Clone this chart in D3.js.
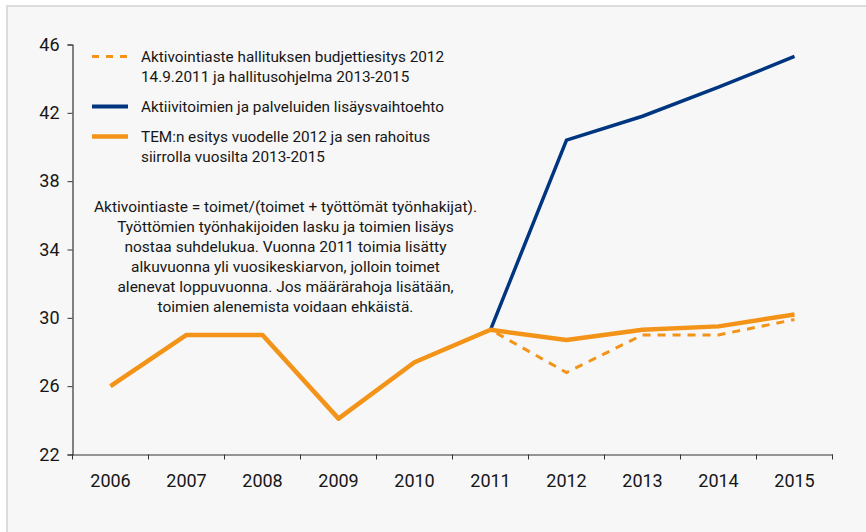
<!DOCTYPE html>
<html>
<head>
<meta charset="utf-8">
<script src="https://cdn.jsdelivr.net/npm/d3@7"></script>
<style>
  body { margin: 0; background: #fff; }
  svg text { font-family: Roboto, "Open Sans", sans-serif; fill: #161616; }
</style>
</head>
<body>
<svg id="chart" width="866" height="532"></svg>
<script>
// data
const years = ['2006', '2007', '2008', '2009', '2010', '2011', '2012', '2013', '2014', '2015']
const budjettiesitys = [26.0, 29.0, 29.0, 24.1, 27.4, 29.3, 26.8, 29.0, 29.0, 29.9]
const lisaysvaihtoehto = [null, null, null, null, null, 29.3, 40.4, 41.8, 43.5, 45.3]
const temEsitys = [26.0, 29.0, 29.0, 24.1, 27.4, 29.3, 28.7, 29.3, 29.5, 30.2]
const yTicks = [22, 26, 30, 34, 38, 42, 46]

const orange = '#f39318'
const navy = '#003580'

const legendItems = [
  { lines: ['Aktivointiaste hallituksen budjettiesitys 2012', '14.9.2011 ja hallitusohjelma 2013-2015'], color: orange, dash: '7,7', width: 3 },
  { lines: ['Aktiivitoimien ja palveluiden lisäysvaihtoehto'], color: navy, dash: null, width: 4 },
  { lines: ['TEM:n esitys vuodelle 2012 ja sen rahoitus', 'siirrolla vuosilta 2013-2015'], color: orange, dash: null, width: 4.5 }
]

const note = [
  'Aktivointiaste = toimet/(toimet + työttömät työnhakijat).',
  'Työttömien työnhakijoiden lasku ja toimien lisäys',
  'nostaa suhdelukua. Vuonna 2011 toimia lisätty',
  'alkuvuonna yli vuosikeskiarvon, jolloin toimet',
  'alenevat loppuvuonna. Jos määrärahoja lisätään,',
  'toimien alenemista voidaan ehkäistä.'
]

const svg = d3.select('#chart')

// panel background with light frame on top and left
svg.append('rect').attr('x', 6).attr('y', 5).attr('width', 860).attr('height', 527).attr('fill', '#dcdcdc')
svg.append('rect').attr('x', 8).attr('y', 7).attr('width', 858).attr('height', 525).attr('fill', '#f7f7f7')

const x = d3.scaleBand().domain(years).range([72.5, 832.5])
const y = d3.scaleLinear().domain([22, 46]).range([454.5, 44.5])

// y axis
const yAxis = svg.append('g')
  .attr('transform', 'translate(72.5,0)')
  .call(d3.axisLeft(y).tickValues(yTicks).tickSize(5).tickPadding(8))
yAxis.select('.domain').attr('stroke', '#333').attr('stroke-width', 1.2)
yAxis.selectAll('.tick line').attr('stroke', '#333')
yAxis.selectAll('.tick text').attr('font-size', 18).attr('fill', '#161616')

// x axis with ticks between years
const xAxis = svg.append('g')
  .attr('transform', 'translate(0,454.5)')
  .call(d3.axisBottom(x).tickSize(0).tickPadding(20))
xAxis.select('.domain').attr('stroke', '#333').attr('stroke-width', 1.2)
xAxis.selectAll('.tick text').attr('font-size', 18).attr('fill', '#161616')
xAxis.selectAll('.boundary')
  .data(years.concat(['end']))
  .join('line')
  .attr('x1', (d, i) => 72.5 + i * x.bandwidth())
  .attr('x2', (d, i) => 72.5 + i * x.bandwidth())
  .attr('y1', 0)
  .attr('y2', 5)
  .attr('stroke', '#333')

const line = d3.line()
  .defined(d => d != null)
  .x((d, i) => x(years[i]) + x.bandwidth() / 2)
  .y(d => y(d))

svg.append('path')
  .attr('d', line(lisaysvaihtoehto))
  .attr('fill', 'none').attr('stroke', navy).attr('stroke-width', 3.5)

svg.append('path')
  .attr('d', line(budjettiesitys))
  .attr('fill', 'none').attr('stroke', orange).attr('stroke-width', 3)
  .attr('stroke-dasharray', '8,7')

svg.append('path')
  .attr('d', line(temEsitys))
  .attr('fill', 'none').attr('stroke', orange).attr('stroke-width', 4.5)
  .attr('stroke-linejoin', 'round')

// legend
const legendY = [56.5, 106.5, 136.5]
const legend = svg.append('g')
legendItems.forEach((item, i) => {
  const g = legend.append('g').attr('transform', `translate(0,${legendY[i]})`)
  g.append('line')
    .attr('x1', 92).attr('x2', 128)
    .attr('stroke', item.color).attr('stroke-width', item.width)
    .attr('stroke-dasharray', item.dash)
  g.selectAll('text')
    .data(item.lines)
    .join('text')
    .attr('x', 141)
    .attr('y', (d, j) => j * 20.5)
    .attr('dy', '0.35em')
    .attr('font-size', 15.3)
    .text(d => d)
})

// explanatory note
svg.append('g')
  .selectAll('text')
  .data(note)
  .join('text')
  .attr('x', 285.5)
  .attr('y', (d, i) => 207 + i * 19.9)
  .attr('dy', '0.35em')
  .attr('text-anchor', 'middle')
  .attr('font-size', 15.5)
  .text(d => d)
</script>
</body>
</html>
